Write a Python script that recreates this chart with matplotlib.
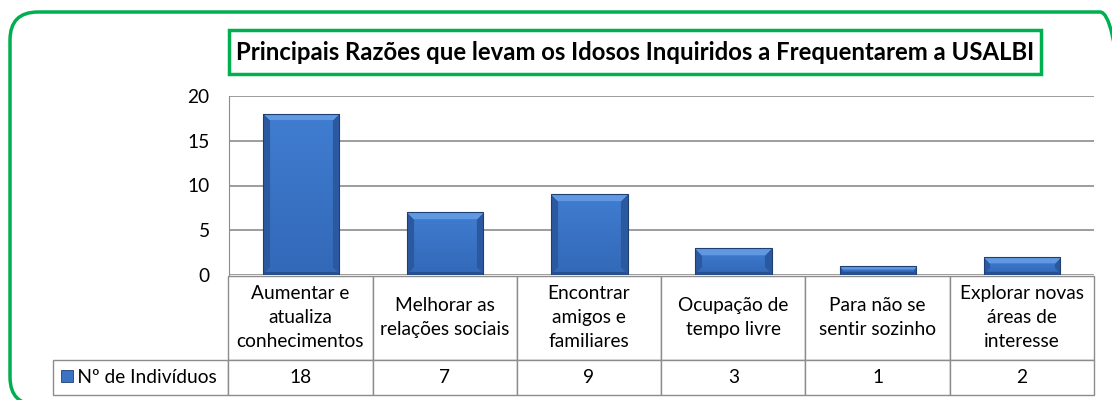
import numpy as np
import matplotlib.pyplot as plt
from matplotlib.patches import FancyBboxPatch, Rectangle

categorias = ["Aumentar e\natualiza\nconhecimentos", "Melhorar as\nrelações sociais",
              "Encontrar\namigos e\nfamiliares", "Ocupação de\ntempo livre",
              "Para não se\nsentir sozinho", "Explorar novas\náreas de\ninteresse"]
valores = [18, 7, 9, 3, 1, 2]
serie = "Nº de Indivíduos"
titulo = "Principais Razões que levam os Idosos Inquiridos a Frequentarem a USALBI"
yticks = [0, 5, 10, 15, 20]

plt.rcParams['font.family'] = ['Lato', 'DejaVu Sans']
W, H = 1112, 400
fig = plt.figure(figsize=(W / 100, H / 100), dpi=100)

verde = "#00B050"
cinza = "#8C8C8C"
fs = 13.8

# rounded outer frame (inches), runs off the right and bottom edge
fig.patches.append(FancyBboxPatch((0.10, -0.05), 11.18, 3.93,
                                  boxstyle="round,pad=0,rounding_size=0.28",
                                  transform=fig.dpi_scale_trans, fill=False,
                                  edgecolor=verde, linewidth=2.5))

# title in a green box
fig.text((229 + 1041) / 2 / W, 1 - 52 / H, titulo, ha='center', va='center',
         fontsize=17.2, fontweight='bold', color='black')
fig.patches.append(Rectangle((229 / W, 1 - 74 / H), 812 / W, 44 / H,
                             transform=fig.transFigure, fill=False,
                             edgecolor=verde, linewidth=2.5))

ax = fig.add_axes([229 / W, 1 - 275 / H, 865 / W, 179 / H])
x = np.arange(len(valores))
ax.set_xlim(-0.5, len(valores) - 0.5)
ax.set_ylim(0, 20)
ax.set_yticks(yticks)
ax.tick_params(axis='y', length=0, labelsize=fs, pad=14)
ax.set_xticks([])
for s in ['top', 'right', 'bottom']:
    ax.spines[s].set_visible(False)
ax.spines['left'].set_color(cinza)
ax.yaxis.grid(True, color=cinza, linewidth=1.2)
ax.set_axisbelow(True)

bars = ax.bar(x, valores, width=0.53, color="#3A72C4", edgecolor="none", zorder=2)

# bevelled gradient fill for each bar
fig.canvas.draw()
top_c = np.array([0.38, 0.60, 0.89])
body_c = np.array([0.25, 0.49, 0.82])
low_c = np.array([0.20, 0.41, 0.72])
side_c = np.array([0.17, 0.35, 0.63])
for b in bars:
    x0, y0 = b.get_x(), b.get_y()
    bw, bh = b.get_width(), b.get_height()
    p0 = ax.transData.transform((x0, y0))
    p1 = ax.transData.transform((x0 + bw, y0 + bh))
    nw = max(int(p1[0] - p0[0]), 2)
    nh = max(int(p1[1] - p0[1]), 2)
    bev = min(7, nh / 3)
    xs = np.arange(nw)[None, :] + 0.5
    ys = np.arange(nh)[:, None] + 0.5
    t = ys / nh
    img = body_c * (1 - t[..., None]) + low_c * t[..., None]
    img = np.broadcast_to(img, (nh, nw, 3)).copy()
    dl, dr = xs, nw - xs
    dt, db = ys, nh - ys
    side = np.minimum(dl, dr)
    m_side = (side < bev) & (side < dt) & (side < db)
    m_top = (dt < bev) & (dt <= side)
    m_bot = (db < 3) & (db <= side)
    img[np.broadcast_to(m_side, (nh, nw))] = side_c
    img[np.broadcast_to(m_top, (nh, nw))] = top_c
    img[np.broadcast_to(m_bot, (nh, nw))] = side_c * 0.9
    im = ax.imshow(img, extent=(x0, x0 + bw, y0, y0 + bh), aspect='auto',
                   zorder=3, interpolation='bilinear')
    im.set_clip_path(b)
    b.set_edgecolor("#1F3F73")
    b.set_linewidth(0.8)
    b.set_zorder(4)
    b.set_facecolor("none")
ax.set_xlim(-0.5, len(valores) - 0.5)
ax.set_ylim(0, 20)

# data table below the plot (first column holds the series label)
larg = [175] + [144] * len(valores)
tot = sum(larg)
tab = ax.table(cellText=[["     " + serie] + [str(v) for v in valores]],
               colLabels=[""] + categorias, colWidths=[w / tot for w in larg],
               cellLoc='center',
               bbox=[-176 / 865, -120 / 179, 1041 / 865, 119 / 179])
tab.auto_set_font_size(False)
tab.set_fontsize(fs)
for (r, c), cell in tab.get_celld().items():
    cell.set_edgecolor(cinza)
    cell.set_linewidth(1.0)
    cell.set_height(83 if r == 0 else 35)
    cell.get_text().set_linespacing(1.5)
    if c == 0:
        cell.get_text().set_ha('left')
        cell.PAD = 0.0
        if r == 0:
            cell.visible_edges = ''

# legend key square in the series label cell
fig.patches.append(Rectangle((61 / W, 1 - 382 / H), 12 / W, 12 / H,
                             transform=fig.transFigure, facecolor="#3A72C4",
                             edgecolor="#1F3F73", linewidth=0.6))

fig.savefig("out.png", dpi=100)
